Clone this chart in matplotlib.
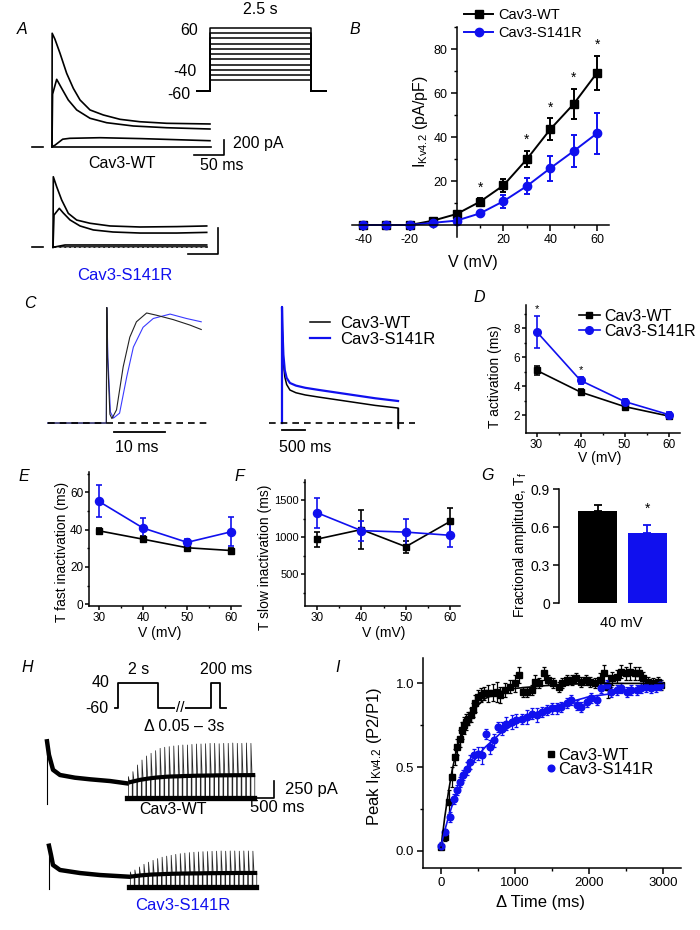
import numpy as np
import matplotlib
matplotlib.use('Agg')
import matplotlib.pyplot as plt
from matplotlib.ticker import FixedLocator, FormatStrFormatter

plt.rcParams['font.family'] = ['Liberation Sans', 'DejaVu Sans']
plt.rcParams['mathtext.default'] = 'regular'
plt.rcParams['axes.unicode_minus'] = False
plt.rcParams['axes.linewidth'] = 1.1
plt.rcParams['xtick.direction'] = 'out'
plt.rcParams['ytick.direction'] = 'out'

BLUE = '#1010ee'
W, H = 700, 930

# ---------------- data ----------------
# A: example currents (ms, pA), one list per voltage step
a_wt_time = [
    [0, 0.3, 5, 13.5, 24.7, 35.9, 47.2, 64, 86.4, 114.5, 148, 193, 266],
    [0, 1, 7.9, 16.3, 27.4, 41.6, 64, 92, 137, 193, 266],
    [0, 5, 18, 30, 81, 150, 266],
    [0, 268],
]
a_wt_curr = [
    [0, 1512, 1432, 1245, 978, 778, 623, 490, 423, 365, 333, 312, 303],
    [0, 700, 898, 778, 623, 490, 379, 320, 276, 253, 236],
    [0, 20, 100, 112, 120, 108, 80],
    [0, 0],
]
a_s_time = [
    [0, 0.5, 6.2, 14.6, 25.8, 39.9, 62.3, 96, 146.5, 208.3, 258.8],
    [0, 1.7, 10.6, 17.3, 28.6, 45.5, 67.9, 101, 146.5, 208.3, 258.8],
    [0, 20.2, 258.8],
    [0, 258.8],
]
a_s_curr = [
    [0, 549, 471, 368, 264, 212, 187, 166, 158, 161, 166],
    [0, 251, 303, 267, 213, 166, 135, 119, 111, 111, 116],
    [0, 18, 18],
    [0, 0],
]
a_steps = [-40, -30, -20, -10, 0, 10, 20, 30, 40, 50, 60]
a_hold = -60
a_step_dur = 2.5

# B: I-V
iv_v = [-40, -30, -20, -10, 0, 10, 20, 30, 40, 50, 60]
iv_wt = [0, 0, 0, 2, 5, 10.6, 18, 29.9, 43.5, 55, 69.2]
iv_wt_err = [0, 0, 0, 0.5, 1, 1.5, 3, 3.7, 5, 6.7, 7.7]
iv_s = [0, 0, 0, 1, 2, 5.3, 10.8, 17.7, 25.8, 33.6, 41.7]
iv_s_err = [0, 0, 0, 0.3, 0.8, 1, 3, 3.8, 5.6, 7.3, 9.2]
iv_star_v = [10, 30, 40, 50, 60]

# C: normalised traces
c_fast_t_wt = [-11.6, -0.1, 0, 0.15, 0.6, 1.0, 1.9, 3.2, 4.5, 5.8, 7.8, 9.7, 13, 16.3, 18.5]
c_fast_wt = [0, 0, 1.05, 0.6, 0.08, 0.04, 0.12, 0.51, 0.78, 0.92, 1.0, 0.98, 0.94, 0.89, 0.85]
c_fast_t_s = [-11.6, -0.1, 0, 0.2, 0.7, 1.3, 2.5, 3.9, 5.2, 7.1, 9.1, 12.4, 15.6, 18.5]
c_fast_s = [0, 0, 1.05, 0.6, 0.1, 0.045, 0.09, 0.42, 0.69, 0.87, 0.95, 0.99, 0.95, 0.92]
c_slow_t = [0, 0, 10, 30, 60, 100, 170, 300, 500, 800, 1200, 1600, 2000, 2490, 2490]
c_slow_wt = [0, 1.055, 0.8, 0.55, 0.42, 0.35, 0.3, 0.275, 0.255, 0.235, 0.21, 0.185, 0.16, 0.136, -0.045]
c_slow_s = [0, 1.055, 0.85, 0.62, 0.48, 0.41, 0.364, 0.34, 0.32, 0.3, 0.275, 0.25, 0.225, 0.2, -0.045]

# D-G: kinetics
kin_v = [30, 40, 50, 60]
act_wt = [5.1, 3.6, 2.6, 1.95]
act_wt_err = [0.3, 0.2, 0.15, 0.15]
act_s = [7.77, 4.4, 2.95, 2.05]
act_s_err = [1.1, 0.25, 0.15, 0.15]
act_star_v = [30, 40]
fast_wt = [39.4, 34.9, 30.3, 28.8]
fast_wt_err = [1.5, 1.5, 1.2, 1.2]
fast_s = [55.2, 40.9, 33.2, 38.9]
fast_s_err = [8.6, 5.3, 1.8, 7.7]
slow_wt = [975, 1105, 873, 1215]
slow_wt_err = [100, 260, 80, 185]
slow_s = [1332, 1090, 1070, 1027]
slow_s_err = [200, 135, 180, 160]
frac_vals = [0.73, 0.551]
frac_err = [0.045, 0.066]

# H: recovery protocol (s, mV) and currents (ms, pA)
h_prot_t = [-0.15, 0, 0, 2, 2, 4.65, 4.65, 5.1, 5.1, 5.4]
h_prot_v = [-60, -60, 40, 40, -60, -60, 40, 40, -60, -60]
h_sweep_dt = 94.4
h_wt_first_t = [0, 0, 40, 125, 270, 580, 900, 1310, 1664]
h_wt_first_i = [-80, 804, 614, 402, 329, 291, 268, 244, 211]
h_wt_peaks = [306, 376, 470, 540, 597, 635, 672, 705, 720, 729, 738, 745, 752, 752,
              760, 766, 766, 770, 775, 775, 770, 775, 775, 780, 775, 775, 780, 775]
h_wt_sustain = [230, 245, 260, 270, 280, 288, 295, 300, 305, 308, 310, 312, 315, 316,
                318, 320, 320, 322, 322, 324, 324, 325, 325, 326, 326, 327, 327, 328]
h_s_first_t = [0, 0, 42, 83, 229, 645, 1061, 1664]
h_s_first_i = [-28, 582, 451, 310, 240, 197, 169, 145]
h_s_peaks = [212, 240, 282, 320, 350, 376, 400, 420, 435, 447, 460, 470, 478, 485,
             490, 494, 498, 500, 503, 505, 508, 505, 508, 508, 505, 508, 508, 505]
h_s_sustain = [150, 158, 165, 170, 175, 178, 180, 183, 185, 187, 188, 190, 190, 192,
               192, 193, 194, 195, 195, 196, 196, 197, 197, 198, 198, 198, 198, 198]

# I: recovery from inactivation
rec_wt_t = [0, 60, 110, 150, 185, 215, 250, 280, 310, 340, 370, 400, 430, 460, 500,
            540, 580, 640, 700, 760, 800, 865, 930, 1000, 1060, 1110, 1160, 1225, 1270,
            1330, 1390, 1450, 1520, 1590, 1640, 1700, 1770, 1830, 1900, 1960, 2010, 2080,
            2150, 2200, 2260, 2320, 2380, 2440, 2500, 2560, 2620, 2680, 2730, 2800, 2870,
            2940, 2980]
rec_wt = [0.02, 0.08, 0.29, 0.44, 0.56, 0.62, 0.67, 0.72, 0.75, 0.77, 0.79, 0.81, 0.84,
          0.88, 0.92, 0.93, 0.94, 0.94, 0.945, 0.95, 0.93, 0.96, 0.98, 1.0, 1.05, 0.95,
          0.95, 0.96, 1.01, 1.0, 1.06, 1.02, 1.0, 0.98, 1.0, 1.02, 1.02, 1.03, 1.01, 1.02,
          1.01, 1.0, 1.02, 1.06, 0.98, 1.03, 1.04, 1.07, 1.06, 1.07, 1.06, 1.06, 1.03,
          1.01, 1.0, 1.01, 0.99]
rec_wt_err = [0.01, 0.02, 0.07, 0.06, 0.05, 0.05, 0.05, 0.05, 0.05, 0.05,
              0.04, 0.04, 0.04, 0.05, 0.04, 0.04, 0.04, 0.05, 0.05, 0.06,
              0.05, 0.04, 0.04, 0.05, 0.05, 0.03, 0.03, 0.03, 0.04, 0.03,
              0.04, 0.03, 0.03, 0.03, 0.03, 0.03, 0.03, 0.03, 0.03, 0.03,
              0.03, 0.03, 0.04, 0.05, 0.07, 0.04, 0.04, 0.04, 0.04, 0.05,
              0.04, 0.04, 0.04, 0.03, 0.03, 0.03, 0.03]
rec_s_t = [0, 60, 120, 175, 220, 260, 300, 345, 390, 445, 505, 550, 610, 660, 715, 765,
           820, 885, 955, 1020, 1090, 1160, 1225, 1295, 1360, 1430, 1495, 1565, 1630,
           1700, 1765, 1835, 1900, 1970, 2035, 2105, 2170, 2240, 2305, 2375, 2440, 2510,
           2575, 2645, 2710, 2780, 2845, 2915, 2960]
rec_s = [0.03, 0.11, 0.2, 0.31, 0.36, 0.41, 0.45, 0.49, 0.53, 0.57,
         0.58, 0.57, 0.7, 0.62, 0.66, 0.74, 0.73, 0.76, 0.77, 0.78,
         0.79, 0.8, 0.82, 0.81, 0.83, 0.84, 0.85, 0.85, 0.86, 0.88,
         0.9, 0.87, 0.86, 0.89, 0.91, 0.9, 0.97, 0.99, 0.95, 0.96,
         0.97, 0.95, 0.96, 0.96, 0.97, 0.98, 0.97, 0.98, 0.99]
rec_s_err = [0.02, 0.02, 0.03, 0.03, 0.03, 0.03, 0.03, 0.04, 0.04, 0.04,
             0.04, 0.05, 0.03, 0.04, 0.04, 0.03, 0.04, 0.04, 0.04, 0.04,
             0.03, 0.04, 0.03, 0.04, 0.03, 0.03, 0.03, 0.03, 0.03, 0.03,
             0.03, 0.03, 0.03, 0.03, 0.03, 0.03, 0.03, 0.03, 0.03, 0.03,
             0.03, 0.03, 0.03, 0.03, 0.03, 0.03, 0.03, 0.03, 0.03]
fit_wt_t = [0, 50, 100, 150, 200, 250, 300, 400, 500, 600, 700, 800, 1000, 1500, 2000, 2500, 3000]
fit_wt = [0.02, 0.2, 0.35, 0.48, 0.58, 0.66, 0.72, 0.81, 0.87, 0.91, 0.93, 0.95, 0.97, 0.99, 1.0, 1.0, 1.0]
fit_s_t = [0, 50, 100, 150, 200, 300, 400, 500, 600, 800, 1000, 1200, 1500, 2000, 2500, 3000]
fit_s = [0.03, 0.12, 0.2, 0.27, 0.33, 0.43, 0.51, 0.57, 0.62, 0.7, 0.76, 0.81, 0.86, 0.92, 0.95, 0.97]

labels = ['Cav3-WT', 'Cav3-S141R']

fig = plt.figure(figsize=(W / 100, H / 100), dpi=100)


def px_axes(l, t, r, b):
    return fig.add_axes([l / W, 1 - b / H, (r - l) / W, (b - t) / H])


def fig_text(x, y, s, **kw):
    kw.setdefault('ha', 'center')
    kw.setdefault('va', 'center')
    fig.text(x / W, 1 - y / H, s, **kw)


def style(ax, size, length=4, pad=2.5):
    for side in ('top', 'right'):
        ax.spines[side].set_visible(False)
    ax.tick_params(which='major', length=length, width=1.1, labelsize=size, pad=pad)
    ax.tick_params(which='minor', length=length * 0.55, width=1.0)


def put_labels(ax, xlabel, xpos, ylabel, ypos, size):
    if xlabel:
        ax.set_xlabel(xlabel, fontsize=size)
        ax.xaxis.set_label_coords(xpos[0] / W, 1 - xpos[1] / H, transform=fig.transFigure)
        ax.xaxis.label.set_va('center')
    if ylabel:
        ax.set_ylabel(ylabel, fontsize=size)
        ax.yaxis.set_label_coords(ypos[0] / W, 1 - ypos[1] / H, transform=fig.transFigure)
        ax.yaxis.label.set_va('center')
        ax.yaxis.label.set_ha('center')


def series(ax, x, y, err, color, marker, ms, lw=1.3, cap=2.3):
    return ax.errorbar(x, y, yerr=err, color=color, marker=marker, ms=ms, lw=lw,
                       elinewidth=lw, capsize=cap, capthick=lw, mec=color)


# ---------------- A ----------------
axA1 = px_axes(28, 25, 250, 175)
axA1.set_xlim(-40.4, 333.4)
axA1.set_ylim(-377, 1622)
axA1.axis('off')
for t, i in zip(a_wt_time, a_wt_curr):
    axA1.plot(t, i, color='k', lw=1.2)
axA1.plot([-34, -14.6], [0, 0], color='k', lw=1.2)
axA1.plot([239.6, 289.6, 289.6], [-110.6, -110.6, 89.4], color='k', lw=1.2)
axA1.text(305, 49, '200 pA', fontsize=11.5, ha='left', va='center')
axA1.text(286, -244, '50 ms', fontsize=11.5, ha='center', va='center')
fig_text(122, 163, 'Cav3-WT', fontsize=11.5)

axA2 = px_axes(28, 170, 250, 265)
axA2.set_xlim(-42.1, 331.7)
axA2.set_ylim(-137.7, 601.4)
axA2.axis('off')
for t, i in zip(a_s_time, a_s_curr):
    axA2.plot(t, i, color='k', lw=1.2)
axA2.plot([5, 258], [4, 4], color='0.65', lw=0.7, dashes=(3, 2))
axA2.plot([-35.9, -16.3], [0, 0], color='k', lw=1.2)
axA2.plot([227.8, 277.8, 277.8], [-52, -52, 148], color='k', lw=1.2)
fig_text(124.5, 275, 'Cav3-S141R', fontsize=12, color=BLUE)

axA3 = px_axes(190, 2, 335, 100)
axA3.set_xlim(-0.495, 3.094)
axA3.set_ylim(-77.8, 109.8)
axA3.axis('off')
for v in a_steps:
    axA3.plot([-0.32, 0, 0, a_step_dur, a_step_dur, a_step_dur + 0.37],
              [a_hold, a_hold, v, v, a_hold, a_hold], color='k', lw=1.1)
axA3.text(-0.297, 56, '60', fontsize=11.5, ha='right', va='center')
axA3.text(-0.33, -24, '-40', fontsize=11.5, ha='right', va='center')
axA3.text(-0.48, -68, '-60', fontsize=11.5, ha='right', va='center')
axA3.text(1.24, 96, '2.5 s', fontsize=11.5, ha='center', va='center')

# ---------------- B ----------------
axB = px_axes(352, 27, 609, 237)
style(axB, 9)
axB.spines['left'].set_position(('data', 0))
axB.spines['bottom'].set_position(('data', 0))
ebw = series(axB, iv_v, iv_wt, iv_wt_err, 'k', 's', 5.3, lw=1.4)
ebs = series(axB, iv_v, iv_s, iv_s_err, BLUE, 'o', 6, lw=1.4)
axB.set_xlim(-44.7, 65.1)
axB.set_ylim(-5.45, 90)
axB.xaxis.set_major_locator(FixedLocator([-40, -20, 20, 40, 60]))
axB.xaxis.set_minor_locator(FixedLocator([-30, -10, 10, 30, 50]))
axB.yaxis.set_major_locator(FixedLocator([20, 40, 60, 80]))
axB.yaxis.set_minor_locator(FixedLocator([10, 30, 50, 70, 90]))
for v in iv_star_v:
    k = iv_v.index(v)
    axB.text(v, iv_wt[k] + iv_wt_err[k] + 5, '*', ha='center', va='center', fontsize=10)
put_labels(axB, 'V (mV)', (473, 262), 'I$_{Kv4.2}$ (pA/pF)', (421, 122), 11.5)
fig.legend([ebw[0], ebs[0]], labels, loc='upper left', bbox_to_anchor=(464 / W, 1 - 8 / H),
           frameon=False, fontsize=10.5, handlelength=2.0, handletextpad=0.35,
           borderpad=0, borderaxespad=0, labelspacing=0.25)

# ---------------- C ----------------
axC1 = px_axes(40, 300, 215, 460)
axC1.set_xlim(-13.1, 21.2)
axC1.set_ylim(-0.336, 1.118)
axC1.axis('off')
axC1.plot(c_fast_t_s, c_fast_s, color='#3a3aff', lw=0.8)
axC1.plot(c_fast_t_wt, c_fast_wt, color='#222222', lw=0.8)
axC1.plot([-11.6, 19.8], [0, 0], color='k', lw=1.2, dashes=(4, 3))
axC1.plot([1.37, 11.37], [-0.082, -0.082], color='k', lw=1.3)
axC1.text(5.8, -0.218, '10 ms', fontsize=11.5, ha='center', va='center')

axC2 = px_axes(262, 300, 420, 460)
axC2.set_xlim(-429, 2961)
axC2.set_ylim(-0.336, 1.118)
axC2.axis('off')
lw_c = axC2.plot(c_slow_t, c_slow_wt, color='k', lw=1.1)[0]
ls_c = axC2.plot(c_slow_t[:-1], c_slow_s[:-1], color=BLUE, lw=1.6)[0]
axC2.plot(c_slow_t[-2:], c_slow_wt[-2:], color='k', lw=1.0)
axC2.plot([-280, 2860], [0, 0], color='k', lw=1.2, dashes=(4, 3))
axC2.plot([0, 500], [-0.064, -0.064], color='k', lw=1.3)
axC2.text(505, -0.218, '500 ms', fontsize=11.5, ha='center', va='center')
axC2.legend([lw_c, ls_c], labels, loc='upper left', bbox_to_anchor=(310 / W, 1 - 316 / H),
            bbox_transform=fig.transFigure, frameon=False, fontsize=12,
            handlelength=1.2, handletextpad=0.6, borderpad=0, borderaxespad=0,
            labelspacing=0.07)

# ---------------- D ----------------
axD = px_axes(526, 305, 679.5, 432.7)
style(axD, 8.5, length=3, pad=1.2)
dw = series(axD, kin_v, act_wt, act_wt_err, 'k', 's', 5, lw=1.2, cap=2)
ds = series(axD, kin_v, act_s, act_s_err, BLUE, 'o', 5.5, lw=1.2, cap=2)
axD.set_xlim(27.6, 62.5)
axD.set_ylim(0.8, 9.6)
axD.xaxis.set_major_locator(FixedLocator(kin_v))
axD.xaxis.set_minor_locator(FixedLocator([35, 45, 55]))
axD.yaxis.set_major_locator(FixedLocator([2, 4, 6, 8]))
axD.yaxis.set_minor_locator(FixedLocator([3, 5, 7, 9]))
for v in act_star_v:
    k = kin_v.index(v)
    axD.text(v, act_s[k] + act_s_err[k] + 0.45, '*', ha='center', va='center', fontsize=8)
put_labels(axD, 'V (mV)', (600, 458), 'T activation (ms)', (495, 377), 10)
fig.legend([dw[0], ds[0]], labels, loc='upper left', bbox_to_anchor=(579 / W, 1 - 309 / H),
           frameon=False, fontsize=11.5, handlelength=1.3, handletextpad=0.25,
           borderpad=0, borderaxespad=0, labelspacing=0.0)

# ---------------- E ----------------
axE = px_axes(89, 472, 241, 606)
style(axE, 8.5, length=3, pad=1.2)
series(axE, kin_v, fast_wt, fast_wt_err, 'k', 's', 5, lw=1.2, cap=2)
series(axE, kin_v, fast_s, fast_s_err, BLUE, 'o', 5.8, lw=1.2, cap=2)
axE.set_xlim(27.75, 62.2)
axE.set_ylim(-1, 71)
axE.xaxis.set_major_locator(FixedLocator(kin_v))
axE.xaxis.set_minor_locator(FixedLocator([35, 45, 55]))
axE.yaxis.set_major_locator(FixedLocator([0, 20, 40, 60]))
axE.yaxis.set_minor_locator(FixedLocator([10, 30, 50, 70]))
put_labels(axE, 'V (mV)', (160, 633), 'T fast inactivation (ms)', (62, 552), 10)

# ---------------- F ----------------
axF = px_axes(305, 480, 460, 606)
style(axF, 8, length=3, pad=1.2)
series(axF, kin_v, slow_wt, slow_wt_err, 'k', 's', 5, lw=1.2, cap=2)
series(axF, kin_v, slow_s, slow_s_err, BLUE, 'o', 5.8, lw=1.2, cap=2)
axF.set_xlim(27.3, 62.2)
axF.set_ylim(72, 1774)
axF.xaxis.set_major_locator(FixedLocator(kin_v))
axF.xaxis.set_minor_locator(FixedLocator([35, 45, 55]))
axF.yaxis.set_major_locator(FixedLocator([500, 1000, 1500]))
axF.yaxis.set_minor_locator(FixedLocator([250, 750, 1250, 1750]))
axF.tick_params(axis='x', labelsize=8.5)
put_labels(axF, 'V (mV)', (384, 633), 'T slow inactivation (ms)', (265, 557), 10)

# ---------------- G ----------------
axG = px_axes(559, 489, 690, 603.3)
style(axG, 10)
axG.spines['bottom'].set_visible(False)
for k, c in enumerate(['k', BLUE]):
    axG.bar(k, frac_vals[k], width=0.79, color=c)
    axG.errorbar(k, frac_vals[k], yerr=[[0], [frac_err[k]]], color=c, lw=1.3,
                 capsize=3, capthick=1.3)
axG.text(1, frac_vals[1] + frac_err[1] + 0.125, '*', ha='center', va='center', fontsize=10)
axG.set_xlim(-0.785, 1.866)
axG.set_ylim(0, 0.9)
axG.set_xticks([])
axG.yaxis.set_major_locator(FixedLocator([0, 0.3, 0.6, 0.9]))
axG.set_yticklabels(['0', '0.3', '0.6', '0.9'])
put_labels(axG, None, None, 'Fractional amplitude, T$_f$', (520, 545), 10)
fig_text(621, 623, '40 mV', fontsize=10.5)

# ---------------- H ----------------
axH0 = px_axes(80, 655, 240, 735)
axH0.set_xlim(-1.9, 6.1)
axH0.set_ylim(-164, 148)
axH0.axis('off')
axH0.plot(h_prot_t, h_prot_v, color='k', lw=1.3)
axH0.text(3.1, -60, '//', ha='center', va='center', fontsize=11,
          bbox=dict(facecolor='white', edgecolor='none', pad=0.2))
axH0.text(-0.4, 40, '40', fontsize=11.5, ha='right', va='center')
axH0.text(-0.5, -60, '-60', fontsize=11.5, ha='right', va='center')
axH0.text(1.02, 92, '2 s', fontsize=11.5, ha='center', va='center')
axH0.text(5.43, 92, '200 ms', fontsize=11.5, ha='center', va='center')
axH0.text(3.3, -129, '\u0394 0.05 \u2013 3s', fontsize=11.5, ha='center', va='center')


def draw_recovery(ax, first_t, first_i, peaks, sustain):
    ax.plot(first_t[:2], first_i[:2], color='k', lw=0.8)
    ax.plot(first_t[1:], first_i[1:], color='k', lw=3.2)
    t0 = first_t[-1]
    n = len(peaks)
    starts = t0 + (np.arange(n) + 0.3) * h_sweep_dt
    path_t, path_i = [t0], [0]
    for s, p, q in zip(starts, peaks, sustain):
        path_t += [s, s, s + 0.25 * h_sweep_dt, s + 0.85 * h_sweep_dt, s + 0.85 * h_sweep_dt]
        path_i += [0, p, q, q, 0]
    ax.plot(path_t, path_i, color='0.15', lw=0.55)
    ax.plot(starts + 0.5 * h_sweep_dt, sustain, color='k', lw=3.0)
    ax.plot([t0, t0 + n * h_sweep_dt], [0, 0], color='k', lw=3.8)


axH1 = px_axes(40, 735, 380, 815)
axH1.set_xlim(-146, 6926)
axH1.set_ylim(-235, 893)
axH1.axis('off')
draw_recovery(axH1, h_wt_first_t, h_wt_first_i, h_wt_peaks, h_wt_sustain)
axH1.plot([4222, 4722, 4722], [0, 0, 250], color='k', lw=1.2)
axH1.text(4950, 131, '250 pA', fontsize=12, ha='left', va='center')
axH1.text(4784, -134, '500 ms', fontsize=12, ha='center', va='center')
fig_text(173, 809, 'Cav3-WT', fontsize=11.5)

axH2 = px_axes(40, 825, 380, 900)
axH2.set_xlim(-187, 6885)
axH2.set_ylim(-183, 874)
axH2.axis('off')
draw_recovery(axH2, h_s_first_t, h_s_first_i, h_s_peaks, h_s_sustain)
fig_text(183, 905, 'Cav3-S141R', fontsize=12, color=BLUE)

# ---------------- I ----------------
axI = px_axes(423.3, 658.3, 681, 867.7)
style(axI, 9.5)
iw = axI.errorbar(rec_wt_t, rec_wt, yerr=rec_wt_err, color='k', marker='s', ms=4.3,
                  ls='none', elinewidth=0.9, capsize=1.6, capthick=0.9)
iS = axI.errorbar(rec_s_t, rec_s, yerr=rec_s_err, color=BLUE, marker='o', ms=4.8,
                  ls='none', elinewidth=0.9, capsize=1.6, capthick=0.9)
axI.plot(fit_wt_t, fit_wt, color='k', lw=1.2, zorder=4)
axI.plot(fit_s_t, fit_s, color=BLUE, lw=1.2, zorder=4)
axI.set_xlim(-240, 3247)
axI.set_ylim(-0.1016, 1.15)
axI.xaxis.set_major_locator(FixedLocator([0, 1000, 2000, 3000]))
axI.xaxis.set_minor_locator(FixedLocator([500, 1500, 2500]))
axI.yaxis.set_major_locator(FixedLocator([0, 0.5, 1.0]))
axI.yaxis.set_minor_locator(FixedLocator([0.25, 0.75]))
axI.yaxis.set_major_formatter(FormatStrFormatter('%.1f'))
put_labels(axI, '\u0394 Time (ms)', (541, 902), 'Peak I$_{Kv4.2}$ (P2/P1)', (375, 756), 12)
axI.legend([iw[0], iS[0]], labels, loc='upper left', bbox_to_anchor=(547 / W, 1 - 748 / H),
           bbox_transform=fig.transFigure, frameon=False, fontsize=12,
           handlelength=0.5, handletextpad=0.15, borderpad=0, borderaxespad=0,
           labelspacing=-0.05)

# ---------------- panel letters ----------------
for letter, x, y in [('A', 22, 29), ('B', 355, 30), ('C', 30, 304), ('D', 479, 298),
                     ('E', 24, 476), ('F', 239, 476), ('G', 487, 475), ('H', 27, 668),
                     ('I', 338, 668)]:
    fig_text(x, y, letter, fontsize=11.5, style='italic')

fig.savefig('out.png', dpi=100)
